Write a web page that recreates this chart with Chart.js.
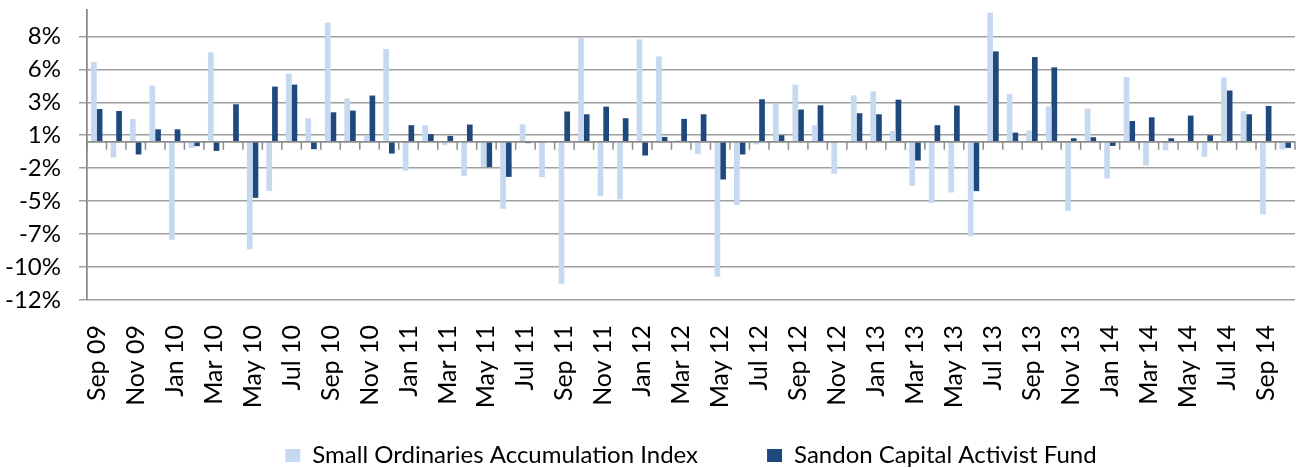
<!DOCTYPE html>
<html><head><meta charset="utf-8">
<script src="https://cdn.jsdelivr.net/npm/chart.js@4.4.0/dist/chart.umd.min.js"></script>
<style>html,body{margin:0;padding:0;background:#fff;overflow:hidden}#wrap{width:1299px;height:468px;position:relative}</style>
</head><body><div id="wrap"><canvas id="c" width="1299" height="468"></canvas></div>
<script>
const categories = [
  'Sep 09','Oct 09','Nov 09','Dec 09',
  'Jan 10','Feb 10','Mar 10','Apr 10','May 10','Jun 10','Jul 10','Aug 10','Sep 10','Oct 10','Nov 10','Dec 10',
  'Jan 11','Feb 11','Mar 11','Apr 11','May 11','Jun 11','Jul 11','Aug 11','Sep 11','Oct 11','Nov 11','Dec 11',
  'Jan 12','Feb 12','Mar 12','Apr 12','May 12','Jun 12','Jul 12','Aug 12','Sep 12','Oct 12','Nov 12','Dec 12',
  'Jan 13','Feb 13','Mar 13','Apr 13','May 13','Jun 13','Jul 13','Aug 13','Sep 13','Oct 13','Nov 13','Dec 13',
  'Jan 14','Feb 14','Mar 14','Apr 14','May 14','Jun 14','Jul 14','Aug 14','Sep 14','Oct 14'
];
const smallOrdsIndex = [
  6.05, -1.19, 1.74, 4.26,
  -7.43, -0.46, 6.79, 0.05, -8.16, -3.74, 5.17, 1.79, 9.04, 3.28, 0.5, 7.04,
  -2.2, 1.26, -0.26, -2.6, -1.9, -5.08, 1.33, -2.68, -10.76, 7.87, -4.12, -4.37,
  7.77, 6.48, 0.12, -0.94, -10.23, -4.8, -0.2, 2.9, 4.34, 1.26, -2.43, 3.53,
  3.83, 0.83, -3.34, -4.63, -3.84, -7.17, 9.8, 3.63, 0.86, 2.7, -5.23, 2.52,
  -2.78, 4.92, -1.8, -0.64, 0.02, -1.14, 4.89, 2.32, -5.51, -0.58
];
const sandonFund = [
  2.49, 2.34, -0.96, 0.95,
  0.95, -0.33, -0.69, 2.85, -4.25, 4.19, 4.34, -0.56, 2.24, 2.37, 3.51, -0.89,
  1.26, 0.58, 0.45, 1.31, -1.92, -2.66, -0.1, 0.0, 2.3, 2.09, 2.67, 1.79,
  -1.04, 0.37, 1.74, 2.09, -2.86, -0.96, 3.23, 0.5, 2.45, 2.77, 0.05, 2.17,
  2.09, 3.2, -1.42, 1.26, 2.75, -3.74, 6.86, 0.7, 6.43, 5.65, 0.27, 0.35,
  -0.31, 1.58, 1.86, 0.27, 1.99, 0.5, 3.89, 2.09, 2.72, -0.46
];
const seriesNames = ['Small Ordinaries Accumulation Index', 'Sandon Capital Activist Fund'];
const yTickValues = [-12, -9.5, -7, -4.5, -2, 0.5, 3, 5.5, 8, 10];
const yTickLabels = ['-12%', '-10%', '-7%', '-5%', '-2%', '1%', '3%', '6%', '8%', null];
const yMin = -12, yMax = 10;

const FONT = 'Lato';
const GRID = '#a0a0a0';
const AXIS = '#8c8c8c';

const axisDecor = {
  id: 'axisDecor',
  afterDatasetsDraw(chart) {
    const {ctx, chartArea, scales: {x, y}} = chart;
    const y0 = y.getPixelForValue(0);
    const step = x.getPixelForValue(1) - x.getPixelForValue(0);
    const start = x.getPixelForValue(0) - step / 2;
    ctx.save();
    ctx.strokeStyle = AXIS;
    ctx.lineWidth = 1.5;
    ctx.beginPath();
    for (let i = 0; i <= categories.length; i++) {
      const px = start + i * step;
      ctx.moveTo(px, y0);
      ctx.lineTo(px, y0 + 8);
    }
    ctx.stroke();
    ctx.lineWidth = 1.8;
    ctx.beginPath();
    ctx.moveTo(chartArea.left, y0);
    ctx.lineTo(chartArea.right, y0);
    ctx.stroke();
    ctx.restore();
  }
};

new Chart(document.getElementById('c'), {
  type: 'bar',
  data: {
    labels: categories,
    datasets: [
      { label: seriesNames[0], data: smallOrdsIndex, backgroundColor: '#C6D9F1', borderWidth: 0,
        categoryPercentage: 0.585, barPercentage: 1.0 },
      { label: seriesNames[1], data: sandonFund, backgroundColor: '#1F497D', borderWidth: 0,
        categoryPercentage: 0.585, barPercentage: 1.0 }
    ]
  },
  options: {
    responsive: false,
    animation: false,
    devicePixelRatio: 1,
    layout: { padding: { left: 0, right: 4, top: 10, bottom: 0 } },
    plugins: {
      tooltip: { enabled: false },
      legend: {
        position: 'bottom',
        fullSize: false,
        maxHeight: 168,
        title: { display: true, text: ' ', font: { family: FONT, size: 10, lineHeight: 1 }, padding: { top: 64.5, bottom: 0 } },
        labels: { boxWidth: 15, boxHeight: 13, padding: 69, color: '#000', font: { family: FONT, size: 24 } }
      }
    },
    scales: {
      x: {
        position: { y: yMin },
        grid: { display: false },
        border: { display: false },
        ticks: {
          autoSkip: false, maxRotation: 90, minRotation: 90, padding: 17, color: '#000',
          font: { family: FONT, size: 25 },
          callback: (v, i) => (i % 2 === 0 ? categories[i] : '')
        },
        afterFit: s => { s.height = 0; s.paddingLeft = 0; s.paddingRight = 0; s.paddingTop = 0; s.paddingBottom = 0; }
      },
      y: {
        min: yMin, max: yMax,
        afterBuildTicks: s => { s.ticks = yTickValues.map(v => ({ value: v })); },
        ticks: {
          padding: 18, color: '#000', font: { family: FONT, size: 24 },
          callback: (v, i) => yTickLabels[i]
        },
        grid: {
          color: c => (c.tick && c.tick.value === yMax ? 'rgba(0,0,0,0)' : GRID),
          tickColor: c => (c.tick && c.tick.value === yMax ? 'rgba(0,0,0,0)' : GRID),
          lineWidth: 1.5, tickLength: 8
        },
        border: { color: AXIS, width: 1.8 },
        afterFit: s => { s.width = 87; s.paddingTop = 0; s.paddingBottom = 0; }
      }
    }
  },
  plugins: [axisDecor]
});
</script>
</body></html>
